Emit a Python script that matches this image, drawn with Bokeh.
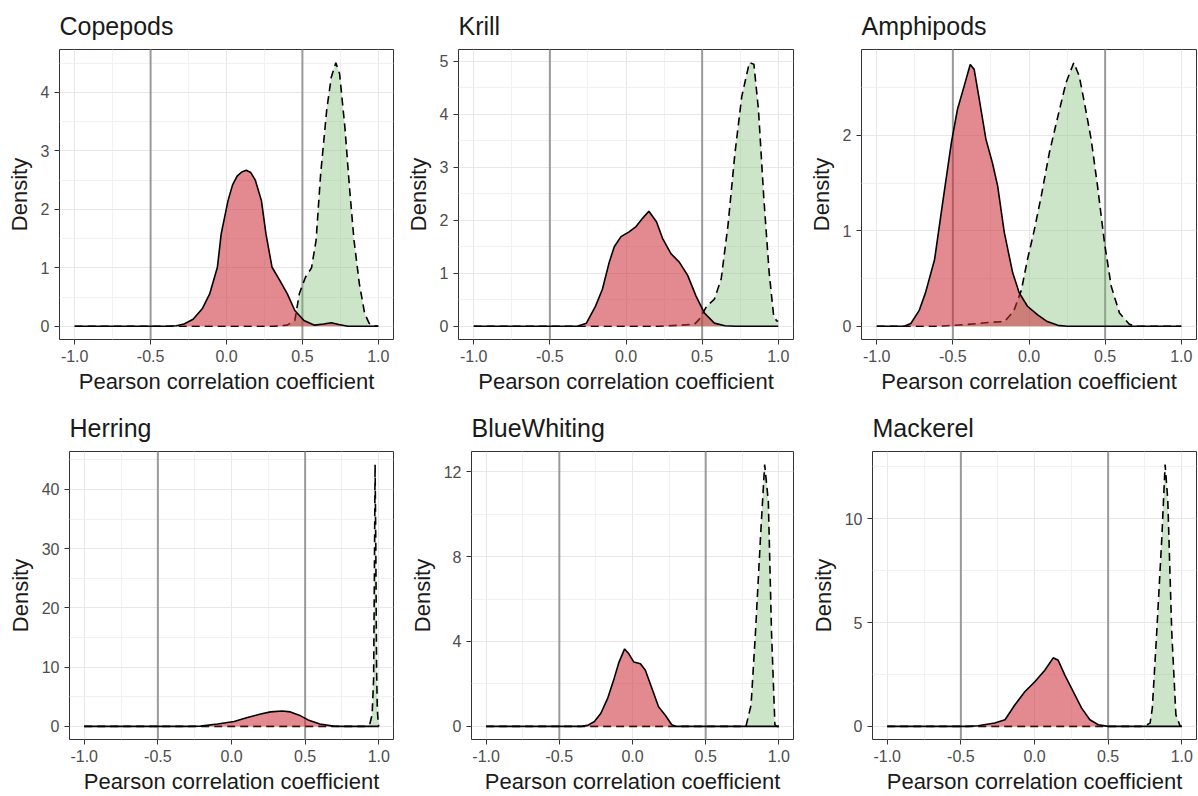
from bokeh.plotting import figure
from bokeh.models import Range1d, FixedTicker, Span
from bokeh.layouts import column, row
from bokeh.embed import file_html
from bokeh.resources import INLINE

# ---------------- data ----------------
x_ticks = [-1.0, -0.5, 0.0, 0.5, 1.0]
x_tick_labels = ["-1.0", "-0.5", "0.0", "0.5", "1.0"]
x_minor = [-0.75, -0.25, 0.25, 0.75]
ref_lines = [-0.5, 0.5]

panel_names = ["Copepods", "Krill", "Amphipods", "Herring", "BlueWhiting", "Mackerel"]

copepods_red_x = [-1.0, -0.40, -0.33, -0.28, -0.22, -0.16, -0.11, -0.06, -0.035, 0.01, 0.04, 0.07, 0.10, 0.13, 0.16, 0.19, 0.23, 0.26, 0.30, 0.35, 0.40, 0.45, 0.51, 0.58, 0.64, 0.69, 0.74, 0.80, 1.0]
copepods_red_y = [0, 0, 0.01, 0.04, 0.12, 0.30, 0.56, 1.01, 1.58, 2.15, 2.42, 2.57, 2.64, 2.67, 2.63, 2.50, 2.15, 1.58, 1.01, 0.79, 0.56, 0.27, 0.10, 0.02, 0.04, 0.06, 0.03, 0.0, 0]
copepods_green_x = [-1.0, 0.30, 0.40, 0.45, 0.48, 0.52, 0.56, 0.59, 0.62, 0.66, 0.69, 0.72, 0.745, 0.78, 0.81, 0.84, 0.875, 0.91, 0.94, 0.97, 1.0]
copepods_green_y = [0, 0, 0.02, 0.10, 0.56, 0.84, 1.00, 1.47, 2.60, 3.70, 4.26, 4.51, 4.32, 3.40, 2.38, 1.47, 0.73, 0.22, 0.05, 0.01, 0]

krill_red_x = [-1.0, -0.32, -0.26, -0.20, -0.155, -0.11, -0.077, -0.033, 0.02, 0.066, 0.11, 0.15, 0.20, 0.24, 0.295, 0.35, 0.405, 0.46, 0.515, 0.58, 0.65, 0.72, 1.0]
krill_red_y = [0, 0, 0.06, 0.38, 0.70, 1.21, 1.50, 1.69, 1.78, 1.88, 2.04, 2.17, 1.97, 1.66, 1.37, 1.21, 0.96, 0.57, 0.25, 0.06, 0.01, 0, 0]
krill_green_x = [-1.0, 0.20, 0.35, 0.45, 0.48, 0.53, 0.58, 0.625, 0.67, 0.715, 0.76, 0.81, 0.84, 0.87, 0.905, 0.94, 0.97, 0.99, 1.0]
krill_green_y = [0, 0, 0.02, 0.04, 0.13, 0.38, 0.51, 0.89, 1.91, 3.25, 4.33, 4.97, 4.94, 4.08, 2.42, 1.02, 0.19, 0.10, 0.10]

amphipods_red_x = [-1.0, -0.82, -0.776, -0.72, -0.68, -0.62, -0.57, -0.51, -0.47, -0.425, -0.386, -0.36, -0.327, -0.283, -0.24, -0.206, -0.162, -0.107, -0.064, -0.01, 0.057, 0.12, 0.19, 0.25, 1.0]
amphipods_red_y = [0, 0, 0.03, 0.17, 0.35, 0.70, 1.26, 1.92, 2.27, 2.52, 2.74, 2.69, 2.38, 1.96, 1.71, 1.47, 0.98, 0.56, 0.35, 0.21, 0.12, 0.05, 0.01, 0, 0]
amphipods_green_x = [-1.0, -0.60, -0.40, -0.27, -0.16, -0.10, -0.05, -0.01, 0.035, 0.08, 0.134, 0.19, 0.243, 0.294, 0.33, 0.364, 0.408, 0.45, 0.496, 0.54, 0.594, 0.66, 0.72, 1.0]
amphipods_green_y = [0, 0, 0.02, 0.04, 0.05, 0.16, 0.38, 0.70, 1.01, 1.36, 1.82, 2.20, 2.55, 2.76, 2.62, 2.34, 1.96, 1.47, 0.87, 0.42, 0.14, 0.02, 0, 0]

herring_red_x = [-1.0, -0.30, -0.21, -0.095, 0.018, 0.108, 0.198, 0.265, 0.344, 0.40, 0.46, 0.52, 0.60, 0.69, 0.75, 1.0]
herring_red_y = [0, 0, 0.05, 0.4, 0.83, 1.5, 2.1, 2.45, 2.6, 2.45, 1.9, 1.1, 0.4, 0.05, 0, 0]
herring_green_x = [-1.0, 0.90, 0.92, 0.94, 0.955, 0.965, 0.97, 0.975, 0.98, 0.985, 0.99, 0.995, 1.0]
herring_green_y = [0, 0, 0.1, 0.5, 2.0, 8.0, 25.0, 44.2, 30.0, 10.0, 3.0, 1.0, 0]

bluewhiting_red_x = [-1.0, -0.35, -0.306, -0.26, -0.216, -0.17, -0.126, -0.092, -0.054, -0.025, 0.009, 0.054, 0.088, 0.133, 0.178, 0.223, 0.268, 0.30, 1.0]
bluewhiting_red_y = [0, 0, 0.05, 0.23, 0.62, 1.32, 2.25, 3.03, 3.65, 3.42, 3.03, 2.95, 2.64, 1.79, 0.93, 0.54, 0.08, 0, 0]
bluewhiting_green_x = [-1.0, 0.775, 0.81, 0.84, 0.876, 0.903, 0.928, 0.95, 0.973, 0.985, 1.0]
bluewhiting_green_y = [0, 0, 1.0, 4.4, 9.1, 12.33, 10.6, 4.4, 0.08, 0, 0]

mackerel_red_x = [-1.0, -0.45, -0.383, -0.27, -0.2, -0.134, -0.066, 0.002, 0.07, 0.127, 0.161, 0.206, 0.263, 0.32, 0.376, 0.433, 0.5, 1.0]
mackerel_red_y = [0, 0, 0.03, 0.16, 0.32, 1.03, 1.67, 2.15, 2.7, 3.3, 3.18, 2.47, 1.67, 0.88, 0.32, 0.08, 0, 0]
mackerel_green_x = [-1.0, 0.72, 0.75, 0.785, 0.80, 0.83, 0.864, 0.887, 0.905, 0.932, 0.96, 0.988, 1.0]
mackerel_green_y = [0, 0, 0.03, 0.16, 0.88, 4.54, 9.0, 12.6, 10.9, 4.54, 0.56, 0.03, 0]

copepods_yticks = [0, 1, 2, 3, 4]
krill_yticks = [0, 1, 2, 3, 4, 5]
amphipods_yticks = [0, 1, 2]
herring_yticks = [0, 10, 20, 30, 40]
bluewhiting_yticks = [0, 4, 8, 12]
mackerel_yticks = [0, 5, 10]

# ---------------- styling ----------------
FONT = "Liberation Sans"
RED = "#CC2936"
GREEN = "#78B86E"


def make_panel(name, rx, ry, gx, gy, yticks, w, h, bl, br, bt, bb):
    ymax = max(max(ry), max(gy))
    step = yticks[1] - yticks[0]
    yminor = [t + step / 2 for t in yticks] + [yticks[0] - step / 2]
    p = figure(width=w, height=h, title=name,
               x_range=Range1d(-1.1, 1.1),
               y_range=Range1d(-0.05 * ymax, 1.05 * ymax),
               output_backend="svg", toolbar_location=None,
               min_border_left=bl, min_border_right=br,
               min_border_top=bt, min_border_bottom=bb,
               background_fill_color="white", border_fill_color="white")
    p.title.text_font = FONT
    p.title.text_font_size = "25px"
    p.title.text_font_style = "normal"
    p.title.text_color = "#1a1a1a"
    p.title.standoff = 19
    p.title.offset = 0

    p.xaxis.ticker = FixedTicker(ticks=x_ticks, minor_ticks=x_minor)
    p.xaxis.major_label_overrides = {t: l for t, l in zip(x_ticks, x_tick_labels)}
    p.yaxis.ticker = FixedTicker(ticks=yticks, minor_ticks=yminor)
    p.xaxis.axis_label = "Pearson correlation coefficient"
    p.yaxis.axis_label = "Density"
    for ax in (p.xaxis, p.yaxis):
        ax.axis_line_color = None
        ax.major_tick_out = 5
        ax.major_tick_in = 0
        ax.minor_tick_out = 0
        ax.minor_tick_in = 0
        ax.major_tick_line_color = "#333333"
        ax.major_label_text_font = FONT
        ax.major_label_text_font_size = "16px"
        ax.major_label_text_color = "#4D4D4D"
        ax.major_label_standoff = 5
        ax.axis_label_text_font = FONT
        ax.axis_label_text_font_size = "22px"
        ax.axis_label_text_font_style = "normal"
        ax.axis_label_text_color = "#1a1a1a"
        ax.axis_label_standoff = 4
    p.yaxis.axis_label_standoff = 6

    p.xgrid.grid_line_color = "#E8E8E8"
    p.ygrid.grid_line_color = "#E8E8E8"
    p.xgrid.minor_grid_line_color = "#F1F1F1"
    p.ygrid.minor_grid_line_color = "#F1F1F1"
    p.outline_line_color = "#333333"
    p.outline_line_width = 1
    p.outline_line_alpha = 1

    for loc in ref_lines:
        p.add_layout(Span(location=loc, dimension="height", line_color="#9a9a9a",
                          line_width=2, level="underlay"))

    p.varea(x=gx, y1=[0] * len(gx), y2=gy, fill_color=GREEN, fill_alpha=0.38)
    p.line(gx, gy, line_color="black", line_width=1.6, line_dash="8 5")
    p.varea(x=rx, y1=[0] * len(rx), y2=ry, fill_color=RED, fill_alpha=0.55)
    p.line(rx, ry, line_color="black", line_width=1.6)
    return p


p1 = make_panel(panel_names[0], copepods_red_x, copepods_red_y, copepods_green_x, copepods_green_y,
                copepods_yticks, 399, 398, 59, 6, 49, 59)
p2 = make_panel(panel_names[1], krill_red_x, krill_red_y, krill_green_x, krill_green_y,
                krill_yticks, 399, 398, 59, 5, 49, 59)
p3 = make_panel(panel_names[2], amphipods_red_x, amphipods_red_y, amphipods_green_x, amphipods_green_y,
                amphipods_yticks, 400, 398, 63, 2, 49, 59)
p4 = make_panel(panel_names[3], herring_red_x, herring_red_y, herring_green_x, herring_green_y,
                herring_yticks, 399, 398, 69, 6, 53, 54)
p5 = make_panel(panel_names[4], bluewhiting_red_x, bluewhiting_red_y, bluewhiting_green_x, bluewhiting_green_y,
                bluewhiting_yticks, 399, 398, 72, 5, 53, 54)
p6 = make_panel(panel_names[5], mackerel_red_x, mackerel_red_y, mackerel_green_x, mackerel_green_y,
                mackerel_yticks, 400, 398, 74, 2, 53, 54)

layout = column(row(p1, p2, p3, spacing=0), row(p4, p5, p6, spacing=0), spacing=0)

open("out.html", "w").write(file_html(layout, INLINE))
